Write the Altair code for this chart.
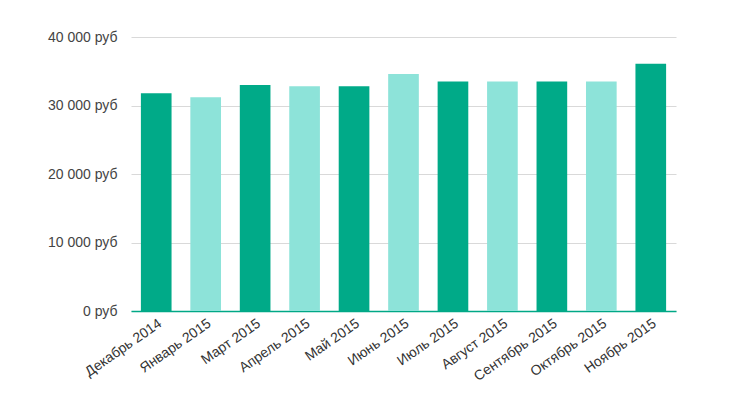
import altair as alt
import pandas as pd

months = ["Декабрь 2014", "Январь 2015", "Март 2015", "Апрель 2015", "Май 2015",
          "Июнь 2015", "Июль 2015", "Август 2015", "Сентябрь 2015", "Октябрь 2015",
          "Ноябрь 2015"]
values = [31800, 31200, 33000, 32800, 32800, 34600, 33500, 33500, 33500, 33500, 36100]
shade = ["dark", "light", "dark", "light", "dark", "light", "dark", "light", "dark", "light", "dark"]

df = pd.DataFrame({"month": months, "value": values, "shade": shade})

bars = alt.Chart(df).mark_bar().encode(
    x=alt.X("month:N", sort=months, title=None,
            scale=alt.Scale(paddingInner=0.38, paddingOuter=0.2),
            axis=alt.Axis(labelAngle=-35, labelAlign="right", labelBaseline="top",
                          ticks=False, domain=True, domainColor="#00A886",
                          domainWidth=1.5, labelFont="Liberation Sans",
                          labelFontSize=14, labelColor="#333", labelPadding=5)),
    y=alt.Y("value:Q", title=None,
            scale=alt.Scale(domain=[0, 40000]),
            axis=alt.Axis(values=[0, 10000, 20000, 30000, 40000],
                          labelExpr="replace(format(datum.value, ',d'), ',', ' ') + ' руб'",
                          ticks=False, domain=False, gridColor="#d9d9d9",
                          labelFont="Liberation Sans", labelFontSize=14,
                          labelColor="#444", labelPadding=14)),
    color=alt.Color("shade:N",
                    scale=alt.Scale(domain=["dark", "light"], range=["#00AA88", "#8DE3D9"]),
                    legend=None),
)

separator = alt.Chart(pd.DataFrame({"d": [0]})).mark_rule(
    color="#eeeeee", strokeWidth=1
).encode(x=alt.value(-131), x2=alt.value(609), y=alt.value(358))

chart = alt.layer(bars, separator).properties(
    width=545, height=274,
    autosize=alt.AutoSizeParams(type="none"),
    padding={"left": 123, "top": 29, "right": 10, "bottom": 80},
).configure_view(stroke=None)

chart.save("out.html", embed_options={"renderer": "svg", "actions": False})
